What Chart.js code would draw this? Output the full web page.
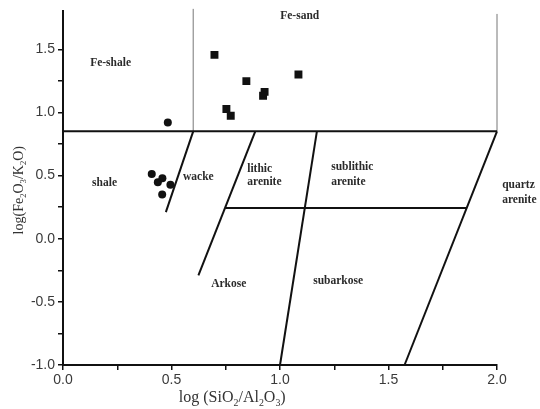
<!DOCTYPE html>
<html>
<head>
<meta charset="utf-8">
<script src="https://cdn.jsdelivr.net/npm/chart.js@4.4.0/dist/chart.umd.min.js"></script>
<style>
  html, body { margin: 0; padding: 0; background: #fff; }
  #wrap { width: 540px; height: 409px; }
</style>
</head>
<body>
<div id="wrap"><canvas id="herron" width="540" height="409"></canvas></div>
<script>
// samples, log(SiO2/Al2O3) against log(Fe2O3/K2O)
const shaleX = [0.483, 0.409, 0.437, 0.458, 0.495, 0.457];
const shaleY = [0.921, 0.513, 0.447, 0.479, 0.427, 0.350];
const sandX = [0.698, 0.845, 0.929, 0.922, 0.753, 0.773, 1.085];
const sandY = [1.456, 1.248, 1.163, 1.132, 1.027, 0.974, 1.300];

// field boundaries, [x, y] end points
const ironLine = [[0, 0.85], [2.0, 0.85]];
const wackeLine = [[0.6, 0.85], [0.474, 0.21]];
const lithicLine = [[0.886, 0.85], [0.624, -0.29]];
const arkoseLine = [[0.747, 0.243], [1.862, 0.243]];
const subLine = [[1.17, 0.85], [1.0, -1.0]];
const quartzLine = [[2.0, 0.85], [1.574, -1.0]];
// thin dividers of the iron rich fields
const ironSplit = [[0.6, 0.85], [0.6, 1.82]];
const ironRight = [[2.0, 0.85], [2.0, 1.78]];

// field names and where they sit (left edge, middle of text)
const fieldNames = ["Fe-shale", "Fe-sand", "shale", "wacke", "lithic", "arenite",
  "sublithic", "arenite", "quartz", "arenite", "Arkose", "subarkose"];
const fieldX = [0.125, 1.001, 0.134, 0.553, 0.849, 0.849, 1.236, 1.236, 2.024, 2.024, 0.683, 1.153];
const fieldY = [1.392, 1.764, 0.439, 0.492, 0.555, 0.445, 0.571, 0.445, 0.429, 0.310, -0.355, -0.335];

const xLabelled = [0, 0.5, 1.0, 1.5, 2.0];
const yLabelled = [-1.0, -0.5, 0, 0.5, 1.0, 1.5];

// axis titles as [text, subscript?]
const xTitle = [["log (SiO", 0], ["2", 1], ["/Al", 0], ["2", 1], ["O", 0], ["3", 1], [")", 0]];
const yTitle = [["log(Fe", 0], ["2", 1], ["O", 0], ["3", 1], ["/K", 0], ["2", 1], ["O)", 0]];

const pts = (xs, ys) => xs.map((x, i) => ({ x: x, y: ys[i] }));
const seg = (p) => p.map(q => ({ x: q[0], y: q[1] }));

function boundary(p, thin) {
  return {
    type: "line",
    data: seg(p),
    borderColor: thin ? "#777" : "#111",
    borderWidth: thin ? 1 : 2,
    pointRadius: 0,
    fill: false,
    clip: false,
    order: 2
  };
}

function richText(ctx, parts, size, cx, baseline) {
  const subSize = size * 0.62;
  let total = 0;
  parts.forEach(p => {
    ctx.font = (p[1] ? subSize : size) + "px 'Liberation Serif', serif";
    total += ctx.measureText(p[0]).width;
  });
  let x = cx - total / 2;
  ctx.textAlign = "left";
  ctx.textBaseline = "alphabetic";
  parts.forEach(p => {
    ctx.font = (p[1] ? subSize : size) + "px 'Liberation Serif', serif";
    ctx.fillText(p[0], x, p[1] ? baseline + size * 0.22 : baseline);
    x += ctx.measureText(p[0]).width;
  });
}

const labelsPlugin = {
  id: "fieldLabels",
  afterDraw(chart) {
    const ctx = chart.ctx;
    const xs = chart.scales.x, ys = chart.scales.y;
    ctx.save();
    ctx.fillStyle = "#2a2a2a";
    ctx.font = "bold 11.5px 'Liberation Serif', serif";
    ctx.textAlign = "left";
    ctx.textBaseline = "middle";
    fieldNames.forEach((name, i) => {
      ctx.fillText(name, xs.getPixelForValue(fieldX[i]), ys.getPixelForValue(fieldY[i]));
    });

    ctx.fillStyle = "#333";
    richText(ctx, xTitle, 16, xs.getPixelForValue(0.78), 402);
    ctx.save();
    ctx.translate(23, (chart.chartArea.top + chart.chartArea.bottom) / 2 + 2);
    ctx.rotate(-Math.PI / 2);
    richText(ctx, yTitle, 14, 0, 0);
    ctx.restore();
    ctx.restore();
  }
};

const quarterTicks = (scale) => {
  scale.ticks = scale.ticks.filter(t => Math.abs(t.value * 4 - Math.round(t.value * 4)) < 1e-6);
};
const tickText = (list) => (v) => list.some(t => Math.abs(t - v) < 1e-6) ? Number(v).toFixed(1) : "";

new Chart(document.getElementById("herron"), {
  type: "scatter",
  data: {
    datasets: [
      {
        label: "shale samples",
        data: pts(shaleX, shaleY),
        pointStyle: "circle",
        pointRadius: 4,
        backgroundColor: "#111",
        borderColor: "#111",
        borderWidth: 0,
        order: 1
      },
      {
        label: "sand samples",
        data: pts(sandX, sandY),
        pointStyle: "rect",
        pointRadius: 5.6,
        backgroundColor: "#111",
        borderColor: "#111",
        borderWidth: 0,
        order: 1
      },
      boundary(ironLine),
      boundary(wackeLine),
      boundary(lithicLine),
      boundary(arkoseLine),
      boundary(subLine),
      boundary(quartzLine),
      boundary(ironSplit, true),
      boundary(ironRight, true)
    ]
  },
  options: {
    responsive: false,
    animation: false,
    devicePixelRatio: 1,
    layout: { padding: { top: 10, right: 43, left: 0, bottom: 0 } },
    plugins: {
      legend: { display: false },
      tooltip: { enabled: false }
    },
    scales: {
      x: {
        type: "linear",
        min: 0,
        max: 2.0,
        afterBuildTicks: quarterTicks,
        afterFit: (s) => { s.height = 44; },
        ticks: {
          stepSize: 0.25,
          autoSkip: false,
          maxRotation: 0,
          padding: 2,
          color: "#3a3a3a",
          font: { family: "'Liberation Sans', sans-serif", size: 14 },
          callback: tickText(xLabelled)
        },
        grid: { drawOnChartArea: false, drawTicks: true, tickLength: 5, color: "#111", lineWidth: 1.5 },
        border: { display: true, color: "#111", width: 2 }
      },
      y: {
        type: "linear",
        min: -1.0,
        max: 1.8,
        afterBuildTicks: quarterTicks,
        afterFit: (s) => { s.width = 63; },
        ticks: {
          stepSize: 0.25,
          autoSkip: false,
          padding: 3,
          color: "#3a3a3a",
          font: { family: "'Liberation Sans', sans-serif", size: 14 },
          callback: tickText(yLabelled)
        },
        grid: { drawOnChartArea: false, drawTicks: true, tickLength: 5, color: "#111", lineWidth: 1.5 },
        border: { display: true, color: "#111", width: 2 }
      }
    }
  },
  plugins: [labelsPlugin]
});
</script>
</body>
</html>
